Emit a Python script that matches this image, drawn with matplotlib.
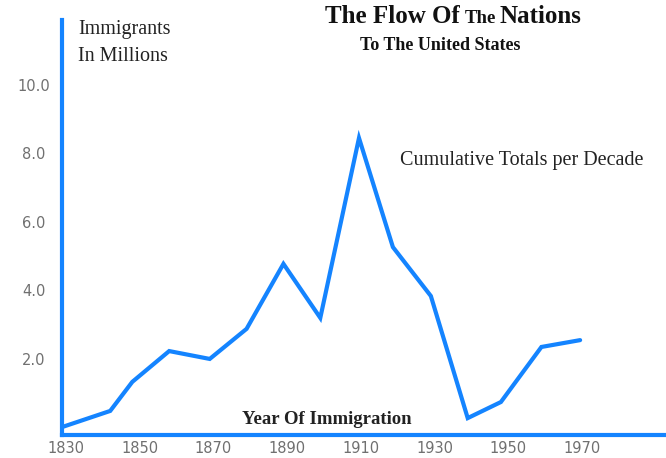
import matplotlib
matplotlib.use("Agg")
import matplotlib.pyplot as plt

# Data (year, millions of immigrants)
years = [1829, 1842, 1848, 1858, 1869, 1879, 1889, 1899, 1909.5, 1918.7,
         1929, 1939, 1948, 1959, 1969.5]
immigrants = [0.0, 0.47, 1.32, 2.22, 1.99, 2.87, 4.77, 3.19, 8.45, 5.26,
              3.83, 0.26, 0.73, 2.34, 2.54]
x_ticks = [1830, 1850, 1870, 1890, 1910, 1930, 1950, 1970]
y_ticks = [2.0, 4.0, 6.0, 8.0, 10.0]
y_tick_labels = ["2.0", "4.0", "6.0", "8.0", "10.0"]

W, H = 666, 458
BLUE = "#1484ff"
GRAY = "#707070"

fig = plt.figure(figsize=(W / 100, H / 100), dpi=100)
fig.patch.set_facecolor("white")

left_px, bottom_px, top_px = 62.3, 435, 20
ax = fig.add_axes([left_px / W, (H - bottom_px) / H,
                   1 - left_px / W, (bottom_px - top_px) / H])
ax.set_facecolor("white")

ax.plot(years, immigrants, color=BLUE, lw=3.0, solid_joinstyle="miter",
        solid_capstyle="round", clip_on=False, zorder=3)

ax.set_xlim(1829.0, 1992.8)
ax.set_ylim(-0.234, 11.9)

for s in ("top", "right"):
    ax.spines[s].set_visible(False)
for s in ("left", "bottom"):
    ax.spines[s].set_color(BLUE)
    ax.spines[s].set_linewidth(3.0)

ax.set_xticks(x_ticks)
ax.set_xticklabels([str(v) for v in x_ticks])
ax.set_yticks(y_ticks)
ax.set_yticklabels(y_tick_labels)
ax.tick_params(axis="both", length=0, labelsize=10.5, labelcolor=GRAY)
ax.tick_params(axis="x", pad=4.5)
ax.tick_params(axis="y", pad=20.4)
for lab in ax.get_yticklabels():
    lab.set_horizontalalignment("center")


def px(x, y):
    return x / W, 1 - y / H


serif = "Liberation Serif"
fig.text(*px(325, 23.3), "The Flow Of", family=serif, weight="bold",
         fontsize=18, va="baseline", ha="left", color="#111111")
fig.text(*px(465, 23.3), "The", family=serif, weight="bold",
         fontsize=13.5, va="baseline", ha="left", color="#111111")
fig.text(*px(500, 23.3), "Nations", family=serif, weight="bold",
         fontsize=18, va="baseline", ha="left", color="#111111")
fig.text(*px(360, 50), "To The United States", family=serif, weight="bold",
         fontsize=13, va="baseline", ha="left", color="#111111")
fig.text(*px(400, 165), "Cumulative Totals per Decade", family=serif,
         fontsize=14.5, va="baseline", ha="left", color="#222222")
fig.text(*px(78, 34.3), "Immigrants", family=serif, fontsize=14.5,
         va="baseline", ha="left", color="#222222")
fig.text(*px(78, 61), "In Millions", family=serif, fontsize=14.5,
         va="baseline", ha="left", color="#222222")
fig.text(*px(242, 424), "Year Of Immigration", family=serif, weight="bold",
         fontsize=13.5, va="baseline", ha="left", color="#222222")

fig.savefig("out.png", dpi=100, facecolor="white")
